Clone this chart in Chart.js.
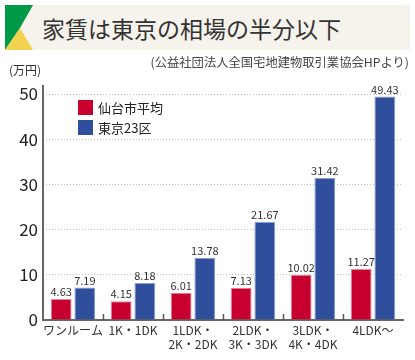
<!DOCTYPE html>
<html><head><meta charset="utf-8">
<script src="https://cdn.jsdelivr.net/npm/chart.js@4/dist/chart.umd.min.js"></script>
<style>
html,body{margin:0;padding:0;background:#fff;}
#wrap{position:relative;width:415px;height:360px;overflow:hidden;font-family:"Noto Sans CJK JP","Noto Sans",sans-serif;}
#banner{position:absolute;left:5px;top:5px;width:405px;height:45px;background:#f6f2ec;}
#title{position:absolute;left:42px;top:10px;font-size:23px;line-height:36px;color:#333;white-space:nowrap;}
#src{position:absolute;right:6px;top:54px;font-size:12.3px;line-height:16px;color:#444;white-space:nowrap;}
#unit{position:absolute;left:9px;top:62px;font-size:12px;line-height:16px;color:#333;}
.lg{position:absolute;left:78px;font-size:13px;line-height:15px;color:#222;white-space:nowrap;}
.lg span{display:inline-block;width:15px;height:15px;vertical-align:top;margin-right:5px;}
canvas{position:absolute;left:0;top:0;}
</style></head>
<body><div id="wrap">
<canvas id="c" width="415" height="360"></canvas>
<div id="banner"><svg width="30" height="45" style="position:absolute;left:0;top:0">
<polygon points="0,0 28,0 15,23 0,45" fill="#009a47"/>
<polygon points="15,23 28,45 0,45" fill="#f2d24e"/></svg></div>
<div id="title">家賃は東京の相場の半分以下</div>
<div id="src">(公益社団法人全国宅地建物取引業協会HPより)</div>
<div id="unit">(万円)</div>
<div class="lg" style="top:100px"><span style="background:#c8002f"></span>仙台市平均</div>
<div class="lg" style="top:120px"><span style="background:#2f4f9c"></span>東京23区</div>
</div>
<script>
const categories = [['ワンルーム'], ['1K・1DK'], ['1LDK・','2K・2DK'], ['2LDK・','3K・3DK'], ['3LDK・','4K・4DK'], ['4LDK〜']];
const seriesNames = ['仙台市平均', '東京23区'];
const sendai = [4.63, 4.15, 6.01, 7.13, 10.02, 11.27];
const tokyo = [7.19, 8.18, 13.78, 21.67, 31.42, 49.43];
const yTicks = [0, 10, 20, 30, 40, 50];

const FONT = '"Noto Sans CJK JP","Noto Sans",sans-serif';

const valueLabels = {
  id: 'valueLabels',
  afterDatasetsDraw(chart) {
    const ctx = chart.ctx;
    ctx.save();
    ctx.font = '11px ' + FONT;
    ctx.fillStyle = '#333';
    ctx.textAlign = 'center';
    ctx.textBaseline = 'alphabetic';
    chart.data.datasets.forEach((ds, di) => {
      chart.getDatasetMeta(di).data.forEach((bar, i) => {
        ctx.fillText(ds.data[i].toFixed(2), bar.x, bar.y - 3);
      });
    });
    ctx.restore();
  }
};

const axisLines = {
  id: 'axisLines',
  afterDatasetsDraw(chart) {
    const x = chart.scales.x, y = chart.scales.y, a = chart.chartArea;
    const ctx = chart.ctx;
    const base = y.getPixelForValue(0);
    ctx.save();
    ctx.strokeStyle = '#666';
    ctx.lineWidth = 2;
    ctx.beginPath();
    ctx.moveTo(a.left, a.top);
    ctx.lineTo(a.left, base + 1);
    ctx.stroke();
    ctx.strokeStyle = '#555';
    ctx.lineWidth = 1.5;
    for (let i = 1; i < categories.length; i++) {
      const px = Math.round((x.getPixelForValue(i - 1) + x.getPixelForValue(i)) / 2) + 0.5;
      ctx.beginPath();
      ctx.moveTo(px, base - 6);
      ctx.lineTo(px, base);
      ctx.stroke();
    }
    ctx.restore();
  }
};

new Chart(document.getElementById('c'), {
  type: 'bar',
  data: {
    labels: categories,
    datasets: [
      { label: seriesNames[0], data: sendai, backgroundColor: '#c8002f', borderColor: '#e6869c', borderWidth: {top:1,left:1,right:1,bottom:0}, borderSkipped: false },
      { label: seriesNames[1], data: tokyo, backgroundColor: '#2f4f9c', borderColor: '#8a9fd2', borderWidth: {top:1,left:1,right:1,bottom:0}, borderSkipped: false }
    ]
  },
  options: {
    responsive: false,
    animation: false,
    devicePixelRatio: 1,
    layout: { padding: { top: 85, right: 12, left: 0, bottom: 0 } },
    categoryPercentage: 0.79,
    barPercentage: 0.88,
    plugins: { legend: { display: false }, tooltip: { enabled: false } },
    scales: {
      x: {
        grid: { display: false, drawTicks: false },
        border: { display: true, color: '#666', width: 2 },
        ticks: { color: '#333', font: { family: FONT, size: 12, lineHeight: 1.15 }, padding: 4, maxRotation: 0, autoSkip: false },
        afterFit(s) { s.height = 40; }
      },
      y: {
        min: 0, max: 52,
        afterBuildTicks(s) { s.ticks = yTicks.map(v => ({ value: v })); },
        grid: {
          color: (c) => c.tick && c.tick.value === 0 ? 'rgba(0,0,0,0)' : '#bdbdbd',
          lineWidth: 1, drawTicks: false
        },
        border: { display: false, dash: [1, 2] },
        ticks: { color: '#222', font: { family: FONT, size: 17 }, padding: 5 },
        afterFit(s) { s.width = 43; }
      }
    }
  },
  plugins: [valueLabels, axisLines]
});
</script>
</body></html>
